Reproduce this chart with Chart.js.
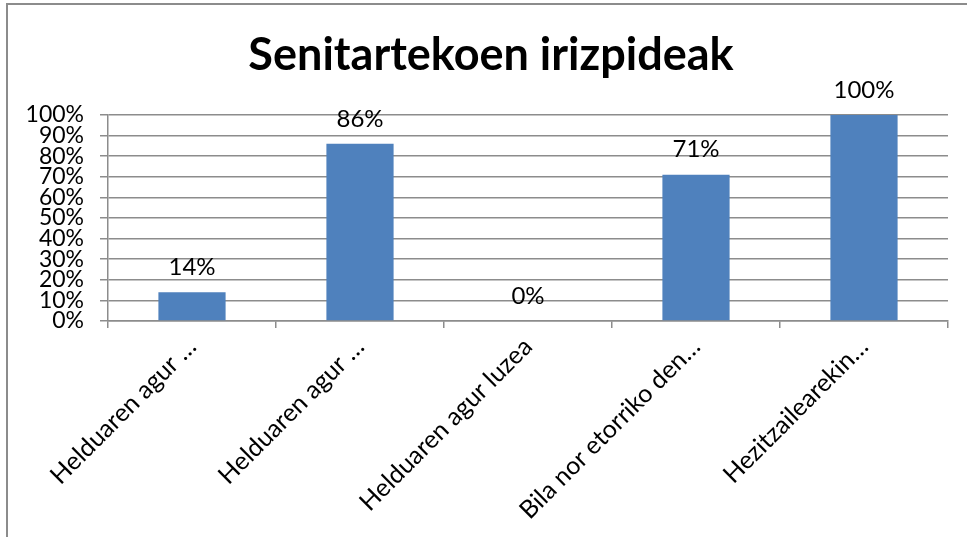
<!DOCTYPE html>
<html>
<head>
<meta charset="utf-8">
<script src="https://cdn.jsdelivr.net/npm/chart.js@4/dist/chart.umd.min.js"></script>
<style>
  html, body { margin: 0; padding: 0; background: #fff; overflow: hidden; }
  #wrap { position: relative; width: 967px; height: 537px; }
  #frame { position: absolute; left: 6px; top: 3px; width: 980px; height: 560px; border: 2px solid #8c8c8c; box-sizing: border-box; }
  #chart { position: absolute; left: 0; top: 0; }
</style>
</head>
<body>
<div id="wrap">
  <div id="frame"></div>
  <canvas id="chart" width="967" height="537"></canvas>
</div>
<script>
'use strict';

// chart data
var titleText = 'Senitartekoen irizpideak';
var categories = [
  'Helduaren agur …',
  'Helduaren agur …',
  'Helduaren agur luzea',
  'Bila nor etorriko den…',
  'Hezitzailearekin…'
];
var values = [14, 86, 0, 71, 100];
var yTicks = [0, 10, 20, 30, 40, 50, 60, 70, 80, 90, 100];

var fontName = 'Lato, "Noto Sans", sans-serif';

// writes the title (centred on the whole frame) and the % above each bar
var barLabels = {
  id: 'barLabels',
  afterDatasetsDraw: function(chart) {
    var ctx = chart.ctx;
    var meta = chart.getDatasetMeta(0);
    ctx.save();
    ctx.fillStyle = '#000';
    ctx.textAlign = 'center';
    ctx.textBaseline = 'middle';
    ctx.font = 'bold 45px ' + fontName;
    ctx.fillText(titleText, 491, 55);
    ctx.font = '24px ' + fontName;
    for (var i = 0; i < meta.data.length; i++) {
      var bar = meta.data[i];
      ctx.fillText(values[i] + '%', bar.x, bar.y - 25);
    }
    ctx.restore();
  }
};

var ctx = document.getElementById('chart').getContext('2d');

var barChart = new Chart(ctx, {
  type: 'bar',
  data: {
    labels: categories,
    datasets: [{
      data: values,
      backgroundColor: '#4f81bd',
      borderWidth: 0,
      barPercentage: 0.4,
      categoryPercentage: 1
    }]
  },
  options: {
    responsive: false,
    animation: false,
    layout: { padding: { left: 0, right: 19, top: 115, bottom: 0 } },
    plugins: {
      legend: { display: false },
      tooltip: { enabled: false },
      title: { display: false }
    },
    scales: {
      y: {
        min: 0,
        max: 100,
        afterFit: function(s) { s.width = 108; },
        afterBuildTicks: function(s) {
          s.ticks = yTicks.map(function(v) { return { value: v }; });
        },
        ticks: {
          autoSkip: false,
          padding: 16,
          color: '#000',
          font: { family: fontName, size: 23 },
          callback: function(v) { return v + '%'; }
        },
        grid: { color: '#8c8c8c', lineWidth: 1.5, tickLength: 8 },
        border: { color: '#8c8c8c', width: 1.5 }
      },
      x: {
        afterFit: function(s) { s.height = 216; },
        ticks: {
          autoSkip: false,
          minRotation: 45,
          maxRotation: 45,
          padding: 4,
          color: '#000',
          font: { family: fontName, size: 25 }
        },
        grid: { display: true, drawOnChartArea: false, offset: true, color: '#8c8c8c', lineWidth: 1.5, tickLength: 7 },
        border: { color: '#8c8c8c', width: 1.5 }
      }
    }
  },
  plugins: [barLabels]
});
</script>
</body>
</html>
